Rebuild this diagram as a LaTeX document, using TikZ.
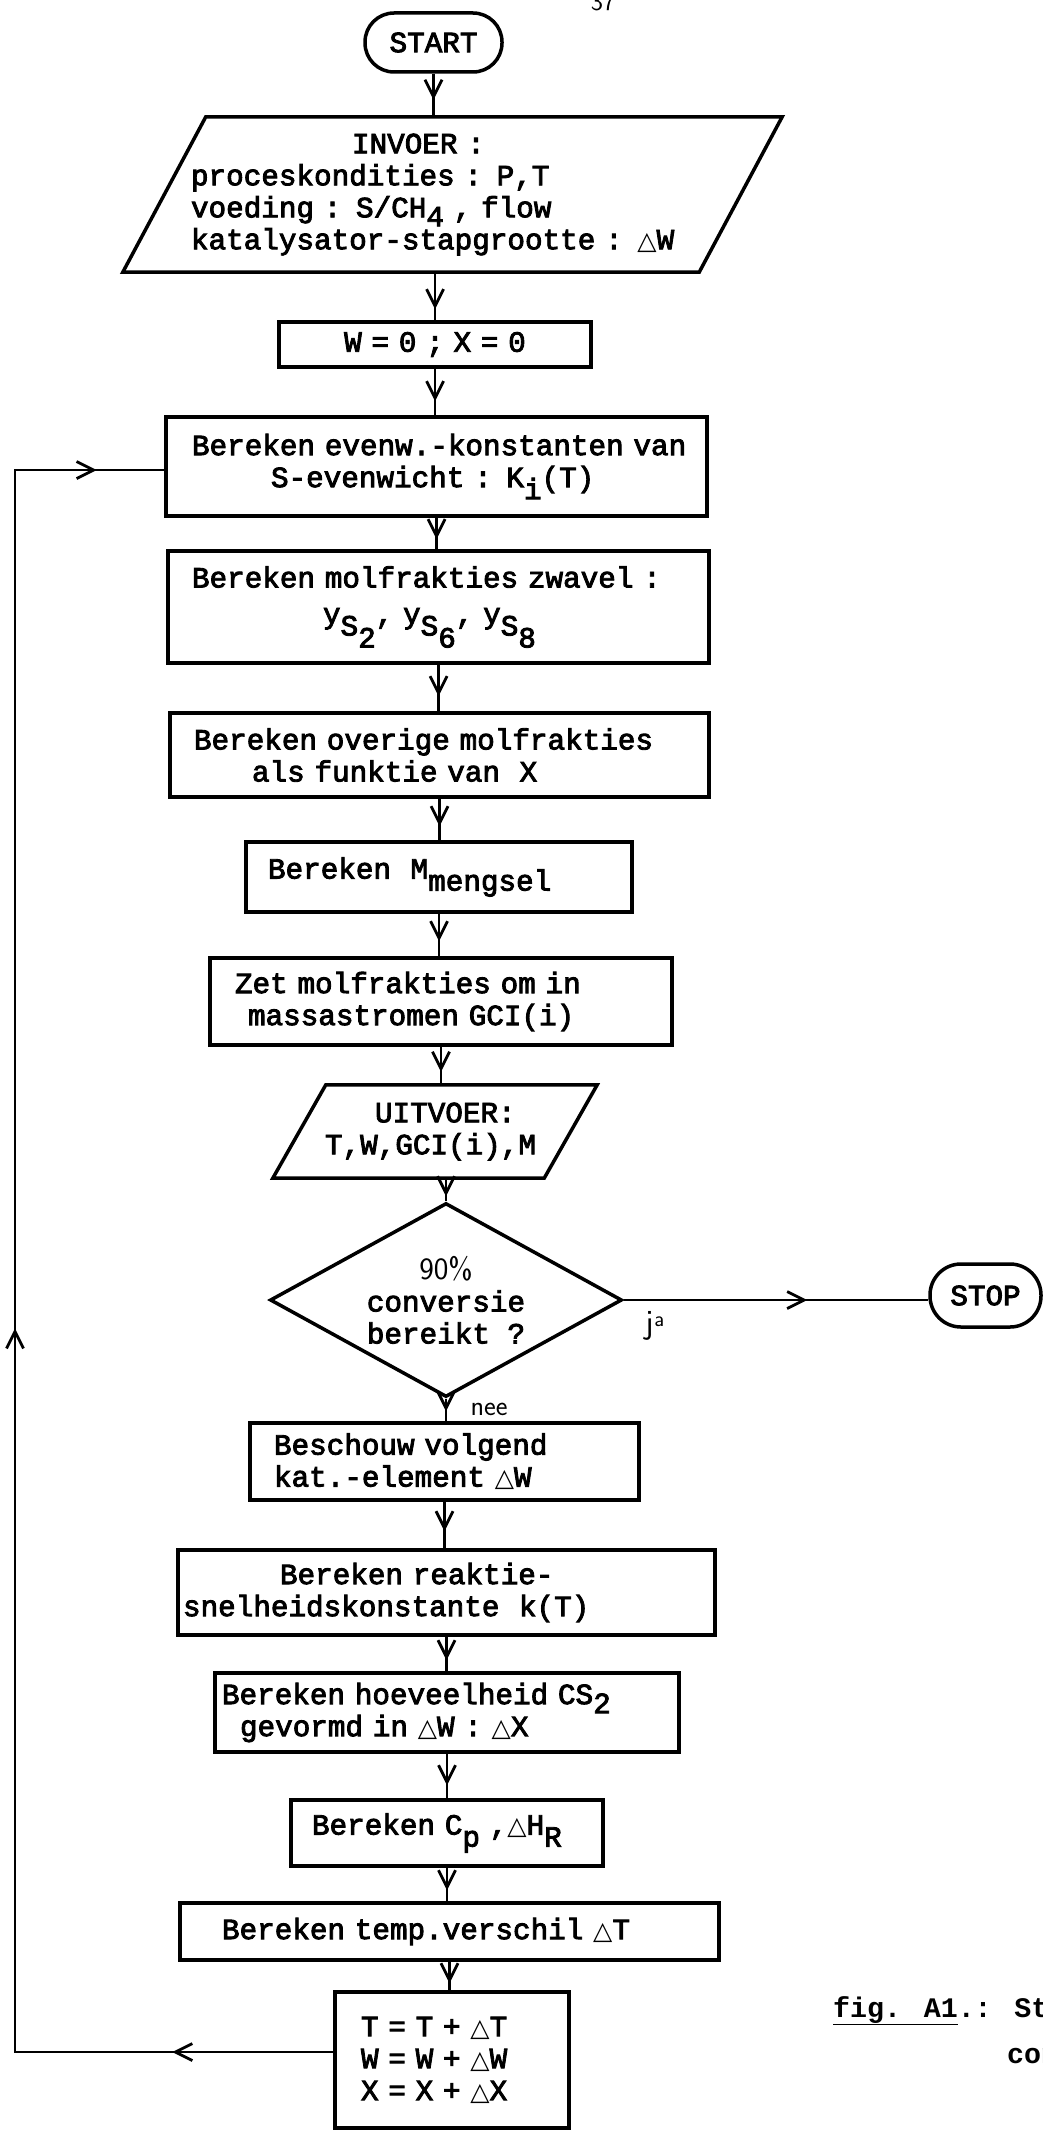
\documentclass[tikz,border=0pt]{standalone}
\usepackage{fontspec}
\usetikzlibrary{arrows.meta,decorations.markings,shapes.geometric}
\newfontfamily\symfont{DejaVu Sans}
\newfontfamily\capfont{Liberation Mono}[WordSpace={1,0,0}]
\newfontfamily\twfont{Liberation Mono}[FakeBold=3,WordSpace={1,0,0}]
\newcommand\tri{{\symfont\fontsize{25pt}{32pt}\selectfont △}}
\newcommand\dn[1]{\raisebox{-12pt}{#1}}
\newcommand\sdn[1]{\smash{\raisebox{-9pt}{#1}}}
\tikzset{
  tw/.style={font={\twfont\fontsize{29.3pt}{32pt}\selectfont}},
  box/.style={tw, draw, line width=3.5pt, rectangle, inner xsep=0pt, inner ysep=0pt, align=left},
  term/.style={tw, draw, line width=3.5pt, rectangle, rounded corners=29pt, inner sep=0pt, align=center},
  conn/.style={line width=2.8pt},
  vtip/.tip={Straight Barb[length=17pt,width=17pt]},
  tipat/.style={postaction={decorate,decoration={markings,mark=at position #1 with {\arrow{vtip}}}}},
  hand/.style={font={\sffamily\fontsize{#1}{32pt}\selectfont}},
}
\begin{document}
\begin{tikzpicture}[x=1pt,y=-1pt]
\useasboundingbox (0,0) rectangle (1043,2141);
\clip (0,0) rectangle (1043,2141);
\fill[white] (0,0) rectangle (1043,2141);

% page number (cut off at the top)
\node[hand=26pt, anchor=south, inner sep=0pt] (pg) at (603,11) {37};

% nodes
\node[term, minimum width=137pt, minimum height=59pt] (start) at (433.5,42.5) {START};

\node[tw, rectangle, inner sep=0pt, text width=576pt, minimum height=155pt, align=left] (invoer) at (452.5,194.5)
  {\hspace*{187.5pt}INVOER :\\ \hspace*{26.5pt}proceskondities : P,T\\ \hspace*{26.5pt}voeding : S/CH\sdn{4} , flow\\ \hspace*{26.5pt}katalysator-stapgrootte : \tri W};
\draw[line width=3.5pt] ([xshift=41.5pt]invoer.north west) -- ([xshift=41.5pt]invoer.north east)
  -- ([xshift=-41.5pt]invoer.south east) -- ([xshift=-41.5pt]invoer.south west) -- cycle;

\node[box, align=center, text width=312pt, minimum height=45pt] (w0) at (435,344.5) {W = 0 ; X = 0};

\node[box, text width=541pt, minimum height=99pt] (b2) at (436.5,466.5)
  {\hspace*{26pt}Bereken evenw.-konstanten van\\ \hspace*{105pt}S-evenwicht : K\dn{i}(T)};

\node[box, text width=541pt, minimum height=112pt] (b3) at (438.5,607)
  {\hspace*{24pt}Bereken molfrakties zwavel :\\[4pt] \hspace*{155pt}y\dn{S\dn{2}}, y\dn{S\dn{6}}, y\dn{S\dn{8}}};

\node[box, text width=539pt, minimum height=84pt] (b4) at (439.5,755)
  {\hspace*{24pt}Bereken overige molfrakties\\ \hspace*{82pt}als funktie van\ \ X};

\node[box, text width=386pt, minimum height=70pt] (b5) at (439,877)
  {\hspace*{22pt}Bereken\ \ M\dn{mengsel}};

\node[box, text width=462pt, minimum height=87pt] (b6) at (441,1001.5)
  {\hspace*{25pt}Zet molfrakties om in\\ \hspace*{38pt}massastromen GCI(i)};

\node[tw, rectangle, inner sep=0pt, text width=271pt, minimum height=93pt, align=left] (uit) at (435,1131.5)
  {\hspace*{75.5pt}UITVOER:\\ \hspace*{25.5pt}T,W,GCI(i),M};
\draw[line width=3.5pt] ([xshift=26.5pt]uit.north west) -- ([xshift=26.5pt]uit.north east)
  -- ([xshift=-26.5pt]uit.south east) -- ([xshift=-26.5pt]uit.south west) -- cycle;

\node[tw, draw, line width=3.5pt, diamond, aspect=1.81, inner sep=0pt, minimum width=352pt, minimum height=194pt, align=center] (dec) at (446,1300)
  {{\sffamily\fontsize{31pt}{32pt}\selectfont 90\%}\\ conversie\\ bereikt ?};

\node[term, rounded corners=31pt, minimum width=111pt, minimum height=63pt] (stop) at (985.5,1295.5) {STOP};

\node[box, text width=389pt, minimum height=77pt] (b7) at (444.5,1461.5)
  {\hspace*{24pt}Beschouw volgend\\ \hspace*{24pt}kat.-element \tri W};

\node[box, text width=537pt, minimum height=85pt] (b8) at (446.5,1592.5)
  {\hspace*{102pt}Bereken reaktie-\\ \hspace*{5pt}snelheidskonstante\ \ k(T)};

\node[box, text width=464pt, minimum height=79pt] (b9) at (447,1712.5)
  {\hspace*{7pt}Bereken hoeveelheid CS\sdn{2}\\ \hspace*{25pt}gevormd in \tri W : \tri X};

\node[box, text width=312pt, minimum height=66pt] (b10) at (447,1833)
  {\hspace*{21pt}Bereken C\dn{p} ,\tri H\dn{R}};

\node[box, text width=539pt, minimum height=57pt] (b11) at (449.5,1931.5)
  {\hspace*{42pt}Bereken temp.verschil \tri T};

\node[box, text width=234pt, minimum height=136pt] (b12) at (452,2060)
  {\hspace*{26pt}T = T + \tri T\\ \hspace*{26pt}W = W + \tri W\\ \hspace*{26pt}X = X + \tri X};

% labels
\node[hand=34pt, inner sep=0pt] (ja) at (655,1326) {j\raisebox{7pt}{\fontsize{22pt}{22pt}\selectfont a}};
\node[hand=28pt, inner sep=0pt] (nee) at (489,1409) {nee};

% caption (cut off at the right)
\node[anchor=base west, inner sep=0pt, font={\capfont\bfseries\fontsize{28.3pt}{30pt}\selectfont}] (cap1) at (833,2017) {\underline{fig. A1}.: Str};
\node[anchor=base west, inner sep=0pt, font={\capfont\bfseries\fontsize{28.3pt}{30pt}\selectfont}] (cap2) at (1007,2063) {con};

% connectors
\draw[conn, tipat=-17pt] (start.south) -- (start.south |- invoer.north);
\draw[conn, tipat=-11pt] (w0.north |- invoer.south) -- (w0.north);
\draw[conn, tipat=-14pt] (w0.south) -- (w0.south |- b2.north);
\draw[conn, tipat=-10pt] (b2.south) -- (b2.south |- b3.north);
\draw[conn, tipat=-15pt] (b3.south) -- (b3.south |- b4.north);
\draw[conn, tipat=-14pt] (b4.south) -- (b4.south |- b5.north);
\draw[conn, tipat=-15pt] (b5.south) -- (b5.south |- b6.north);
\draw[conn, tipat=-13pt] (b6.south) -- (b6.south |- uit.north);
\draw[conn, tipat=-5pt] (dec.north |- uit.south) -- (dec.north);
\draw[conn, tipat=-10pt] (dec.south) -- (dec.south |- b7.north);
\draw[conn, tipat=-17pt] (b7.south) -- (b7.south |- b8.north);
\draw[conn, tipat=-11pt] (b8.south) -- (b8.south |- b9.north);
\draw[conn, tipat=-13pt] (b9.south) -- (b9.south |- b10.north);
\draw[conn, tipat=-11pt] (b10.south) -- (b10.south |- b11.north);
\draw[conn, tipat=-7pt] (b11.south) -- (b11.south |- b12.north);
\draw[conn, tipat=-121pt] (dec.east) -- (dec.east -| stop.west);

% loop back
\coordinate (lpB) at (15,2052);
\coordinate (lpT) at (15,470);
\draw[conn, postaction={decorate,decoration={markings,
    mark=at position 161pt with {\arrow{vtip}},
    mark=at position 1042pt with {\arrow{vtip}},
    mark=at position 1982pt with {\arrow{vtip}}}}]
  (lpB -| b12.west) -- (lpB) -- (lpT) -- (lpT -| b2.west);
\end{tikzpicture}
\end{document}
